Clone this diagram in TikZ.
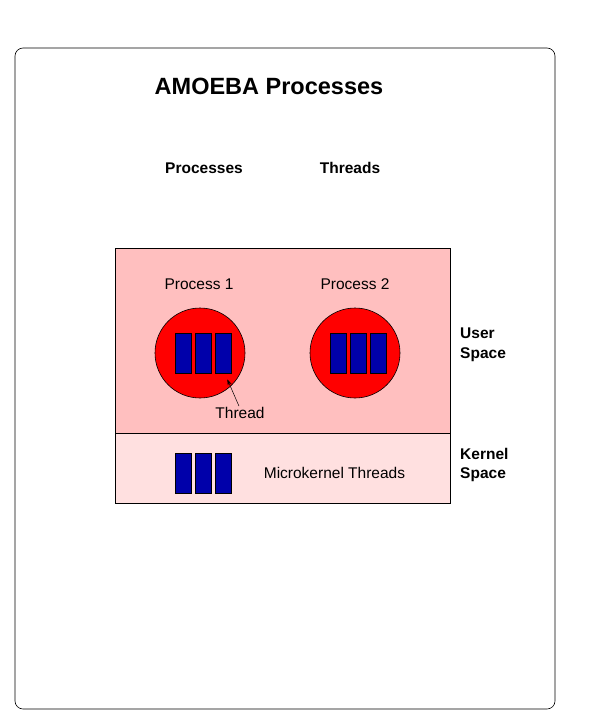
\documentclass[tikz,border=0pt]{standalone}
\usepackage{fontspec}
\setmainfont{Liberation Sans}
\usetikzlibrary{arrows.meta}
\definecolor{userpink}{RGB}{255,191,191}
\definecolor{kernpink}{RGB}{255,224,224}
\definecolor{thrblue}{RGB}{0,0,170}
\begin{document}
\begin{tikzpicture}[x=1pt,y=-1pt,
  lbl/.style={inner sep=0pt,font=\fontsize{15.5}{19}\selectfont},
  blbl/.style={inner sep=0pt,font=\fontsize{15.5}{19}\selectfont\bfseries},
  sidelbl/.style={inner sep=0pt,anchor=north west,align=left,font=\fontsize{15.5}{19.5}\selectfont\bfseries},
  proc/.style={circle,draw=black,fill=red,minimum size=90pt,inner sep=0pt,line width=0.6pt},
  thr/.style={draw=black,fill=thrblue,minimum width=16pt,minimum height=40pt,inner sep=0pt,line width=0.6pt},
  area/.style={draw=black,line width=0.6pt}]
\useasboundingbox (0,0) rectangle (595,723);
\draw[rounded corners=8pt,line width=0.6pt] (15,48) rectangle (555,709);
\node[inner sep=0pt,font=\fontsize{23.5}{28}\selectfont\bfseries] (title) at (269,86) {AMOEBA Processes};
\node[blbl] (hproc) at (204,168) {Processes};
\node[blbl] (hthr) at (350,168) {Threads};
% areas
\path[area,fill=userpink] (115,248) rectangle (450,433);
\path[area,fill=kernpink] (115,433) rectangle (450,503);
\node[lbl] (p1lbl) at (199,284) {Process 1};
\node[lbl] (p2lbl) at (355,284) {Process 2};
\node[proc] (p1) at (200,353) {};
\node[proc] (p2) at (355,353) {};
\node[thr] (t11) at (183,353) {};
\node[thr] (t12) at (203,353) {};
\node[thr] (t13) at (223,353) {};
\node[thr] (t21) at (338,353) {};
\node[thr] (t22) at (358,353) {};
\node[thr] (t23) at (378,353) {};
\node[thr] (k1) at (183,473) {};
\node[thr] (k2) at (203,473) {};
\node[thr] (k3) at (223,473) {};
\node[lbl] (thlbl) at (240,413) {Thread};
\coordinate (ts) at ([xshift=-1pt,yshift=1pt]thlbl.north);
\coordinate (te) at ([xshift=-4pt,yshift=-6pt]t13.south east);
\draw[-{Stealth[length=6pt,width=4pt]},line width=0.5pt] (ts) -- (te);
\node[lbl] (mk) at (334.5,473) {Microkernel Threads};
\node[sidelbl] (user) at (460,328) {User\\Space};
\node[sidelbl] (kern) at (460,448) {Kernel\\Space};
\end{tikzpicture}
\end{document}
